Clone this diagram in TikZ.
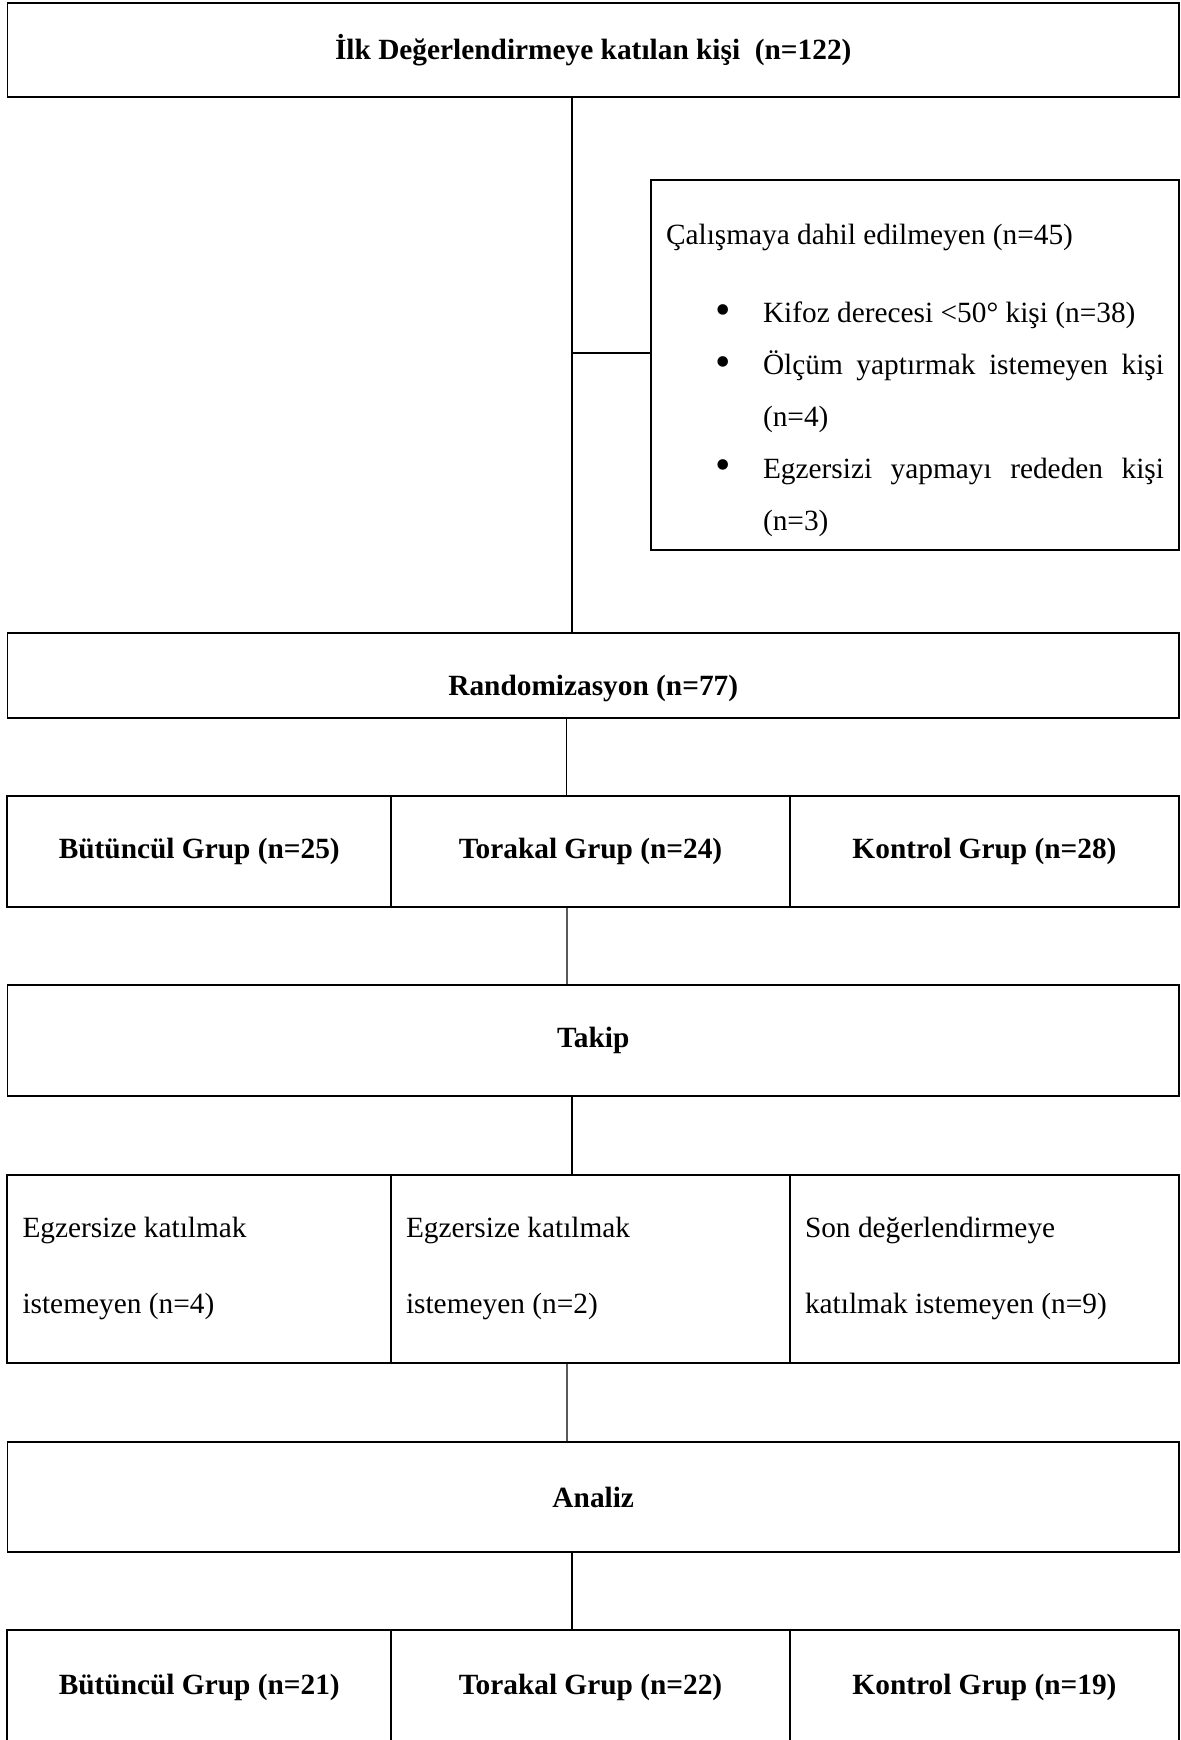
\documentclass[tikz,border=0pt]{standalone}
\usepackage{fontspec}
\setmainfont{Liberation Serif}
\newcommand{\exitem}[1]{\par\noindent\hangindent=1.94cm\hangafter=1\makebox[1.94cm][l]{\hspace{0.98cm}\raisebox{-0.03cm}{\scalebox{1.5}{\textbullet}}}#1\par}
\tikzset{
  stage/.style={draw, line width=1pt, minimum width=23.43cm, inner sep=0pt, font=\fontsize{16.7}{20}\selectfont\bfseries},
  cell/.style={draw, line width=0.65pt, inner sep=0pt, font=\fontsize{16.7}{20}\selectfont\bfseries},
  dropcell/.style={draw, line width=0.65pt, inner xsep=0.3cm, inner ysep=0pt, align=flush left, text height=1.24cm, text depth=2.52cm, font=\fontsize{16.7}{43.8}\selectfont},
  exbox/.style={draw, line width=1pt, inner xsep=0.3cm, inner ysep=0pt, text width=9.96cm, align=justify, text height=1.28cm, text depth=6.12cm, font=\fontsize{16.7}{29.5}\selectfont},
  frame/.style={line width=1pt},
  conn/.style={line width=0.65pt}
}
\begin{document}
\begin{tikzpicture}
\clip (0,0) rectangle (23.6,-34.8);
\node[stage, minimum height=1.88cm] (ilk) at (11.865,-1.0) {İlk Değerlendirmeye katılan kişi \ (n=122)};
\node[exbox] (excl) at (18.3,-7.3) {Çalışmaya dahil edilmeyen (n=45)\par\vspace{0.54cm}
\exitem{Kifoz derecesi <50° kişi (n=38)}
\exitem{Ölçüm yaptırmak istemeyen kişi\linebreak (n=4)}
\exitem{Egzersizi yapmayı rededen kişi\linebreak (n=3)}};
\node[stage, minimum height=1.7cm, text height=0.885cm, text depth=0.105cm] (rand) at (11.865,-13.51) {Randomizasyon (n=77)};
\node[cell, minimum width=7.67cm, minimum height=2.22cm] (grpB) at (3.985,-17.03) {Bütüncül Grup (n=25)};
\node[cell, minimum width=7.98cm, minimum height=2.22cm] (grpT) at (11.81,-17.03) {Torakal Grup (n=24)};
\node[cell, minimum width=7.78cm, minimum height=2.22cm] (grpK) at (19.69,-17.03) {Kontrol Grup (n=28)};
\node[stage, minimum height=2.22cm] (takip) at (11.865,-20.81) {Takip};
\node[dropcell, text width=7.07cm] (dropB) at (3.985,-25.38) {Egzersize katılmak\\istemeyen (n=4)};
\node[dropcell, text width=7.38cm] (dropT) at (11.81,-25.38) {Egzersize katılmak\\istemeyen (n=2)};
\node[dropcell, text width=7.18cm] (dropK) at (19.69,-25.38) {Son değerlendirmeye\\katılmak istemeyen (n=9)};
\node[stage, minimum height=2.2cm] (analiz) at (11.865,-29.94) {Analiz};
\node[cell, minimum width=7.67cm, minimum height=2.3cm] (finB) at (3.985,-33.75) {Bütüncül Grup (n=21)};
\node[cell, minimum width=7.98cm, minimum height=2.3cm] (finT) at (11.81,-33.75) {Torakal Grup (n=22)};
\node[cell, minimum width=7.78cm, minimum height=2.3cm] (finK) at (19.69,-33.75) {Kontrol Grup (n=19)};
\draw[frame] (grpB.north west) rectangle (grpK.south east);
\draw[frame] (dropB.north west) rectangle (dropK.south east);
\draw[frame] (finB.north west) rectangle (finK.south east);
\coordinate (sp) at ([xshift=-0.425cm]ilk.south);
\coordinate (br) at ([yshift=0.24cm]excl.west);
\draw[conn] (sp) -- ([xshift=-0.425cm]rand.north);
\draw[conn] (br) -- (br -| sp);
\draw[conn] ([xshift=-0.535cm]rand.south) -- ([xshift=-0.48cm]grpT.north);
\draw[conn] ([xshift=-0.47cm]grpT.south) -- ([xshift=-0.525cm]takip.north);
\draw[conn] ([xshift=-0.425cm]takip.south) -- ([xshift=-0.37cm]dropT.north);
\draw[conn] ([xshift=-0.47cm]dropT.south) -- ([xshift=-0.525cm]analiz.north);
\draw[conn] ([xshift=-0.425cm]analiz.south) -- ([xshift=-0.37cm]finT.north);
\end{tikzpicture}
\end{document}
